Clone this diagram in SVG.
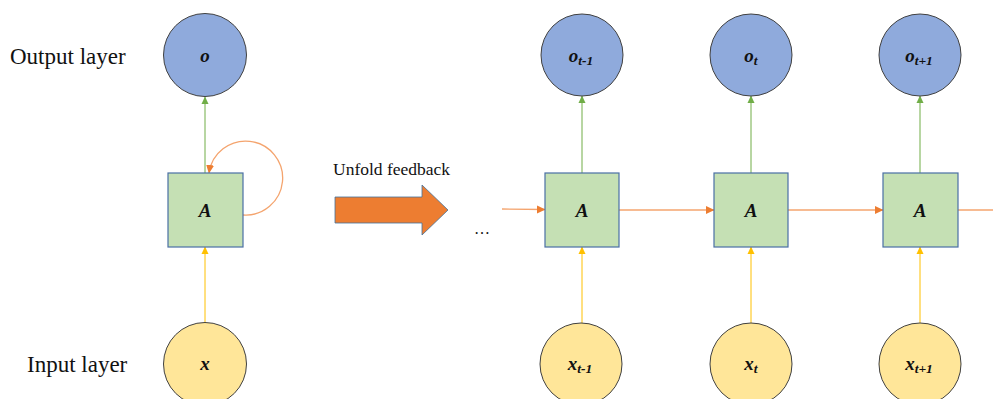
<svg xmlns="http://www.w3.org/2000/svg" width="993" height="399" viewBox="0 0 993 399">
  <style>
    .lbl { font-family: "Liberation Serif", "Times New Roman", serif; fill: #111; }
    .layer { font-size: 23px; }
    .var { font-size: 19px; font-weight: bold; font-style: italic; text-anchor: middle; }
    .sub { font-size: 13.5px; }
    .out { fill: #8FAADC; stroke: #404040; stroke-width: 1; }
    .in { fill: #FFE699; stroke: #404040; stroke-width: 1; }
    .cell { fill: #C5E0B4; stroke: #4A6FA5; stroke-width: 1.2; }
    .g { stroke: #70AD47; stroke-width: 1; fill: none; }
    .y { stroke: #FFC000; stroke-width: 1; fill: none; }
    .o { stroke: #F4A46E; stroke-width: 1.3; fill: none; }
  </style>
  <defs>
    <marker id="ag" markerWidth="8" markerHeight="8" refX="7" refY="4" orient="auto" markerUnits="userSpaceOnUse">
      <path d="M0,0.5 L7.5,4 L0,7.5 Z" fill="#70AD47"/>
    </marker>
    <marker id="ay" markerWidth="8" markerHeight="8" refX="7" refY="4" orient="auto" markerUnits="userSpaceOnUse">
      <path d="M0,0.5 L7.5,4 L0,7.5 Z" fill="#FFC000"/>
    </marker>
    <marker id="ao" markerWidth="9" markerHeight="9" refX="8" refY="4.5" orient="auto" markerUnits="userSpaceOnUse">
      <path d="M0,0.5 L8.5,4.5 L0,8.5 Z" fill="#ED7D31"/>
    </marker>
  </defs>

  <rect width="993" height="399" fill="#FFFFFF"/>

  <!-- layer captions -->
  <text class="lbl layer" x="10" y="64">Output layer</text>
  <text class="lbl layer" x="27" y="372">Input layer</text>

  <!-- unfold arrow -->
  <g id="unfold">
    <text class="lbl" x="333" y="175" font-size="17.5">Unfold feedback</text>
    <path d="M335,197 L422,197 L422,185 L448,210 L422,235 L422,223 L335,223 Z" fill="#ED7D31" stroke="#41719C" stroke-width="0.8"/>
    <text class="lbl" x="474" y="234" font-size="16">…</text>
  </g>

  <!-- connectors -->
  <g id="connectors">
    <!-- folded network -->
    <line class="g" x1="205" y1="173" x2="205" y2="97" marker-end="url(#ag)"/>
    <line class="y" x1="205" y1="323" x2="205" y2="247" marker-end="url(#ay)"/>
    <path class="o" d="M243,215 A37,37 0 1 0 209,173" marker-end="url(#ao)"/>
    <!-- unfolded network: outputs -->
    <line class="g" x1="582" y1="173" x2="582" y2="96" marker-end="url(#ag)"/>
    <line class="g" x1="751" y1="173" x2="751" y2="96" marker-end="url(#ag)"/>
    <line class="g" x1="920" y1="173" x2="920" y2="96" marker-end="url(#ag)"/>
    <!-- unfolded network: inputs -->
    <line class="y" x1="582" y1="323" x2="582" y2="247" marker-end="url(#ay)"/>
    <line class="y" x1="751" y1="323" x2="751" y2="247" marker-end="url(#ay)"/>
    <line class="y" x1="920" y1="323" x2="920" y2="247" marker-end="url(#ay)"/>
    <!-- unfolded network: hidden state chain -->
    <line class="o" x1="502" y1="209" x2="545" y2="209.5" marker-end="url(#ao)"/>
    <line class="o" x1="619" y1="210" x2="714" y2="210" marker-end="url(#ao)"/>
    <line class="o" x1="788" y1="210" x2="883" y2="210" marker-end="url(#ao)"/>
    <line class="o" x1="958" y1="210" x2="993" y2="210"/>
  </g>

  <!-- folded network nodes -->
  <g id="o">
    <circle class="out" cx="205" cy="55" r="41.5"/>
    <text class="lbl var" x="205" y="62">o</text>
  </g>
  <g id="A">
    <rect class="cell" x="168" y="173" width="75" height="74"/>
    <text class="lbl var" x="205" y="217">A</text>
  </g>
  <g id="x">
    <circle class="in" cx="205" cy="364" r="41.5"/>
    <text class="lbl var" x="205" y="370">x</text>
  </g>

  <!-- unfolded: step t-1 -->
  <g id="o_t-1">
    <circle class="out" cx="582" cy="55" r="41"/>
    <text class="lbl var" x="581" y="62">o<tspan class="sub" dy="3">t-1</tspan></text>
  </g>
  <g id="A_t-1">
    <rect class="cell" x="545" y="173" width="74" height="74"/>
    <text class="lbl var" x="582" y="217">A</text>
  </g>
  <g id="x_t-1">
    <circle class="in" cx="581" cy="364" r="41"/>
    <text class="lbl var" x="580" y="370">x<tspan class="sub" dy="3">t-1</tspan></text>
  </g>

  <!-- unfolded: step t -->
  <g id="o_t">
    <circle class="out" cx="751" cy="55" r="41"/>
    <text class="lbl var" x="751" y="62">o<tspan class="sub" dy="3">t</tspan></text>
  </g>
  <g id="A_t">
    <rect class="cell" x="714" y="173" width="74" height="74"/>
    <text class="lbl var" x="751" y="217">A</text>
  </g>
  <g id="x_t">
    <circle class="in" cx="751" cy="364" r="41"/>
    <text class="lbl var" x="751" y="370">x<tspan class="sub" dy="3">t</tspan></text>
  </g>

  <!-- unfolded: step t+1 -->
  <g id="o_t1">
    <circle class="out" cx="920" cy="55" r="41"/>
    <text class="lbl var" x="919" y="62">o<tspan class="sub" dy="3">t+1</tspan></text>
  </g>
  <g id="A_t1">
    <rect class="cell" x="883" y="173" width="75" height="74"/>
    <text class="lbl var" x="920" y="217">A</text>
  </g>
  <g id="x_t1">
    <circle class="in" cx="920" cy="364" r="41"/>
    <text class="lbl var" x="919" y="370">x<tspan class="sub" dy="3">t+1</tspan></text>
  </g>
</svg>
